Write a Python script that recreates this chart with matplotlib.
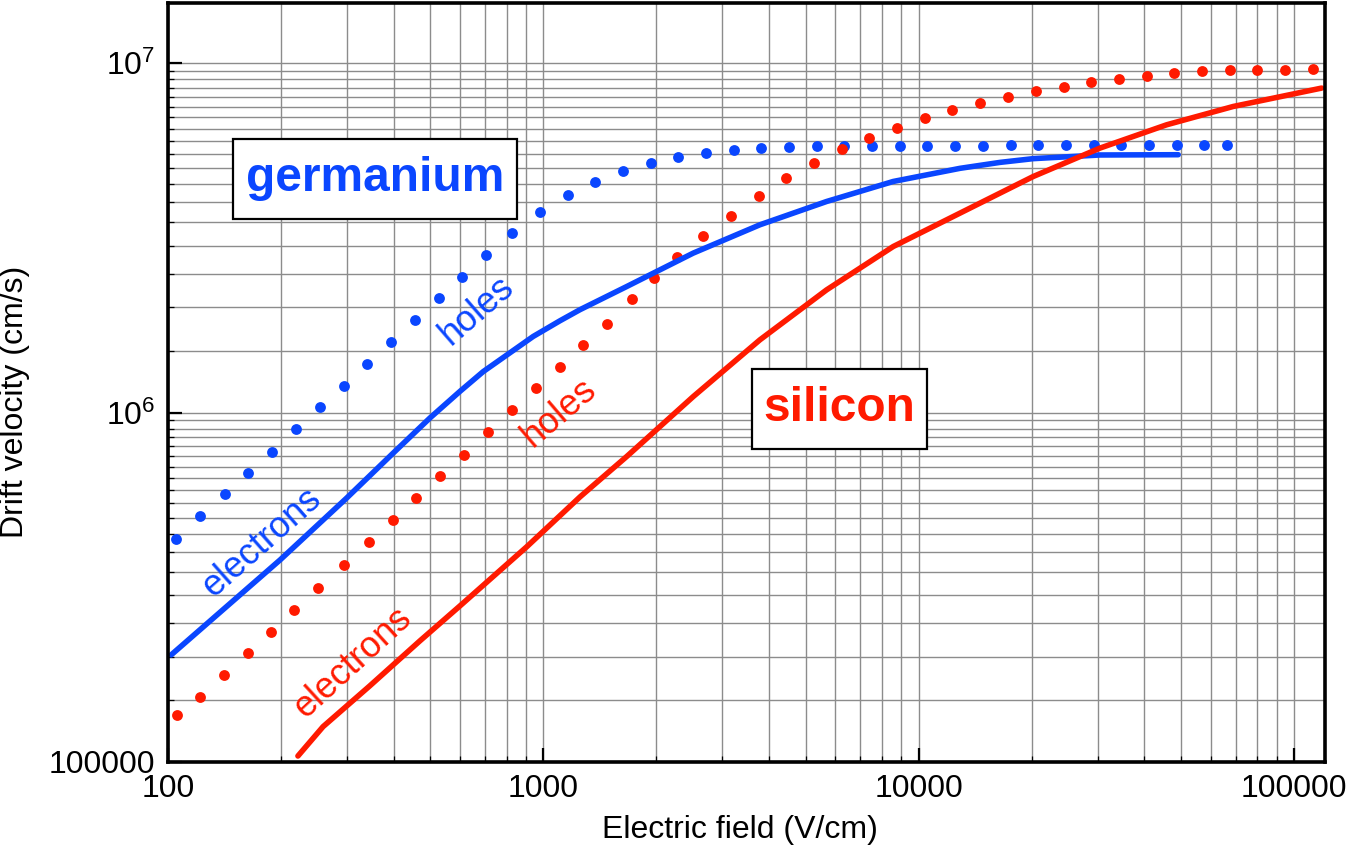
import numpy as np
import matplotlib
matplotlib.use('Agg')
import matplotlib.pyplot as plt
from matplotlib.patches import Rectangle
from matplotlib.ticker import LogLocator, FixedFormatter, FixedLocator, NullFormatter

plt.rcParams['font.family'] = ['Liberation Sans', 'DejaVu Sans']
plt.rcParams['mathtext.fontset'] = 'custom'
plt.rcParams['mathtext.rm'] = 'Liberation Sans'
plt.rcParams['mathtext.it'] = 'Liberation Sans'

# germanium holes (dots)
ge_h_field = [105, 122, 142, 163, 189, 219, 254, 294, 339, 393, 455, 527, 607, 704,
              825, 980, 1163, 1373, 1631, 1936, 2285, 2713, 3222, 3803, 4515, 5362,
              6328, 7513, 8920, 10530, 12500, 14840, 17630, 20800, 24700, 29340,
              34630, 41110, 48820, 57610, 66340]
ge_h_vel = [434000, 506000, 585000, 671000, 773000, 897000, 1036000, 1195000, 1381000,
            1597000, 1843000, 2130000, 2446000, 2828000, 3263000, 3739000, 4194000,
            4576000, 4920000, 5187000, 5385000, 5540000, 5650000, 5725000, 5752000,
            5790000, 5790000, 5800000, 5790000, 5790000, 5800000, 5800000, 5820000,
            5820000, 5820000, 5815000, 5850000, 5850000, 5850000, 5840000, 5840000]

# silicon holes (dots)
si_h_field = [105.5, 121.7, 141, 163.4, 187.8, 217, 251.5, 293.9, 342.6, 396.9, 458.8,
              531.5, 616, 713.7, 825.3, 956, 1108, 1274, 1476, 1723, 1976, 2271, 2669,
              3163, 3749, 4441, 5264, 6239, 7391, 8759, 10380, 12270, 14580, 17340,
              20550, 24350, 28850, 34200, 40530, 48010, 56900, 67440, 79880, 94690, 112200]
si_h_vel = [136300, 153500, 177800, 204800, 235200, 271900, 314900, 365700, 425600,
            492000, 569800, 658900, 758300, 878900, 1016000, 1175000, 1354000, 1560000,
            1798000, 2107000, 2430000, 2791000, 3205000, 3664000, 4166000, 4677000,
            5187000, 5689000, 6087000, 6533000, 6945000, 7355000, 7702000, 7998000,
            8299000, 8560000, 8847000, 9024000, 9204000, 9369000, 9493000, 9531000,
            9531000, 9574000, 9638000]

# germanium electrons (line)
ge_e_field = [102, 199, 299, 398, 499, 600, 692, 940, 1108, 1253, 1668, 2510, 3779,
              5690, 8563, 12890, 16480, 20210, 30430, 49200]
ge_e_vel = [202500, 378700, 568600, 765100, 965000, 1150000, 1310000, 1651000, 1831000,
            1970000, 2294000, 2860000, 3447000, 4019000, 4586000, 5000000, 5200000,
            5330000, 5460000, 5470000]

# silicon electrons (line)
si_e_field = [222, 259, 345, 469, 600, 903, 1253, 1668, 2510, 3779, 5690, 8563, 13430,
              20210, 30430, 45820, 68940, 118600]
si_e_vel = [104000, 126200, 165100, 222000, 279700, 412600, 573600, 748200, 1111000,
            1615000, 2245000, 2987000, 3804000, 4738000, 5713000, 6662000, 7517000,
            8486000]

blue = '#0a46ff'
red = '#ff1a00'

fig = plt.figure(figsize=(13.5, 8.57), dpi=100)
ax = fig.add_axes([0.1244, 0.1109, 0.8570, 0.8860])
ax.set_xscale('log')
ax.set_yscale('log')
ax.set_xlim(100, 121000)
ax.set_ylim(1e5, 1.49e7)

ax.plot(ge_h_field, ge_h_vel, 'o', color=blue, markersize=7.8, markeredgewidth=0, zorder=3)
ax.plot(si_h_field, si_h_vel, 'o', color=red, markersize=7.8, markeredgewidth=0, zorder=3)
ax.plot(ge_e_field, ge_e_vel, '-', color=blue, linewidth=4.0, solid_capstyle='round',
        solid_joinstyle='round', zorder=3)
ax.plot(si_e_field, si_e_vel, '-', color=red, linewidth=4.0, solid_capstyle='round',
        solid_joinstyle='round', zorder=3)

# ticks and grid
ax.xaxis.set_major_locator(FixedLocator([100, 1000, 10000, 100000]))
ax.xaxis.set_major_formatter(FixedFormatter(['100', '1000', '10000', '100000']))
ax.xaxis.set_minor_locator(LogLocator(base=10, subs=np.arange(2, 10)))
ax.xaxis.set_minor_formatter(NullFormatter())
ax.yaxis.set_major_locator(FixedLocator([1e5, 1e6, 1e7]))
ax.yaxis.set_major_formatter(FixedFormatter(['100000', r'$\mathregular{10^6}$', r'$\mathregular{10^7}$']))
ax.yaxis.set_minor_locator(LogLocator(base=10, subs=np.arange(1.5, 10, 0.5)))
ax.yaxis.set_minor_formatter(NullFormatter())

ax.tick_params(which='both', direction='in', top=False, right=False, labelsize=23, colors='black')
ax.tick_params(which='major', length=10, width=1.6, pad=9)
ax.tick_params(which='minor', length=4.5, width=0.9)
ax.grid(which='both', color='#8c8c8c', linewidth=1.0, zorder=0)
ax.set_axisbelow(True)
for s in ax.spines.values():
    s.set_linewidth(2.6)
    s.set_zorder(5)

ax.set_xlabel('Electric field (V/cm)', fontsize=23)
ax.set_ylabel('Drift velocity (cm/s)', fontsize=23)
ax.xaxis.set_label_coords(0.494, -0.070)
ax.yaxis.set_label_coords(-0.119, 0.474)

# material boxes
ax.add_patch(Rectangle((0.0562, 0.7151), 0.2454, 0.1054, transform=ax.transAxes,
                       facecolor='white', edgecolor='black', linewidth=1.6, zorder=4))
ax.add_patch(Rectangle((0.5045, 0.4118), 0.1512, 0.1054, transform=ax.transAxes,
                       facecolor='white', edgecolor='black', linewidth=1.6, zorder=4))
ax.text(356, 4.67e6, 'germanium', color=blue, fontsize=34.5, fontweight='bold',
        ha='center', va='center', zorder=5)
ax.text(6137, 1.025e6, 'silicon', color=red, fontsize=34.5, fontweight='bold',
        ha='center', va='center', zorder=5)

# carrier labels
ax.text(178, 423600, 'electrons', color=blue, fontsize=26, rotation=41.5,
        rotation_mode='anchor', ha='center', va='center', zorder=4)
ax.text(666, 1.955e6, 'holes', color=blue, fontsize=26, rotation=41,
        rotation_mode='anchor', ha='center', va='center', zorder=4)
ax.text(1101, 998000, 'holes', color=red, fontsize=26, rotation=40.5,
        rotation_mode='anchor', ha='center', va='center', zorder=4)
ax.text(311, 192000, 'electrons', color=red, fontsize=26, rotation=42.5,
        rotation_mode='anchor', ha='center', va='center', zorder=4)

fig.savefig('out.png', dpi=100)
